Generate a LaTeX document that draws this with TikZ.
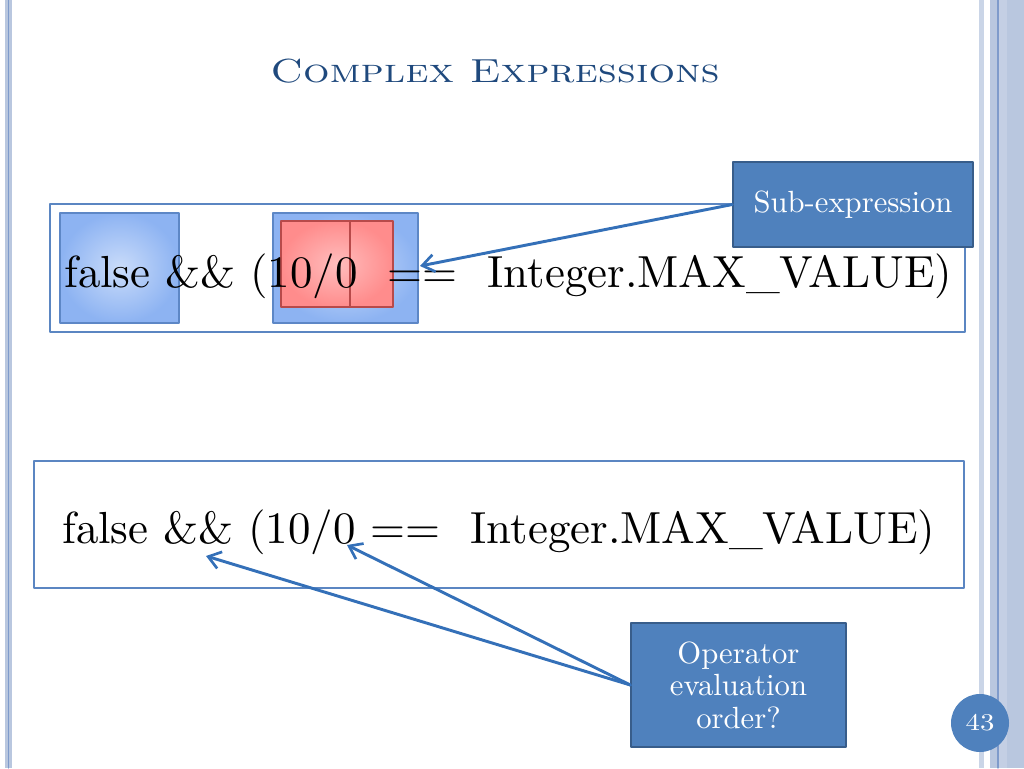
\documentclass[tikz,border=0pt]{standalone}
\usepackage{fontspec}
\setmainfont{lmroman10-regular.otf}[SmallCapsFont=lmromancaps10-regular.otf]
\newfontfamily\titlefont{lmromancaps10-regular.otf}[FakeStretch=1.25]
\newfontfamily\numfont{lmroman10-regular.otf}[FakeStretch=1.2]
\usetikzlibrary{arrows.meta}

\definecolor{stripblue}{HTML}{B9C7DF}
\definecolor{stripline}{HTML}{7F9BCB}
\definecolor{framecol}{HTML}{5B86C2}
\definecolor{calloutcol}{HTML}{4F81BD}
\definecolor{calloutline}{HTML}{385D8A}
\definecolor{arrowcol}{HTML}{3470B8}
\definecolor{titlecol}{HTML}{1F497D}
\definecolor{hlbluein}{HTML}{CADCFA}
\definecolor{hlblueout}{HTML}{8DB3F2}
\definecolor{hlblueline}{HTML}{5D87C6}
\definecolor{hlredin}{HTML}{FFBDBD}
\definecolor{hlredout}{HTML}{FF8C8C}
\definecolor{hlredline}{HTML}{B84A4A}

\tikzset{
  exprbox/.style={draw=framecol,line width=2pt},
  exprtext/.style={anchor=base west,inner sep=0pt,font=\fontsize{33.7}{40}\selectfont},
  hlblue/.style={draw=hlblueline,line width=0.8pt,inner color=hlbluein,outer color=hlblueout},
  hlred/.style={draw=hlredline,line width=0.8pt,inner color=hlredin,outer color=hlredout},
  callout/.style={draw=calloutline,fill=calloutcol,line width=1pt,text=white,align=center,
    inner sep=0pt,font=\fontsize{23}{24.4}\selectfont},
  pointer/.style={->,draw=arrowcol,line width=2.2pt}
}

\begin{document}
\begin{tikzpicture}[line cap=round,line join=round,>={Straight Barb[length=9pt,width=13pt,line width=2pt]},x=0.75pt,y=-0.75pt]
\useasboundingbox (0,0) rectangle (1024,768);
% side strips
\fill[stripblue] (5,0) rectangle (12,768);
\draw[stripline,line width=0.8pt] (8.5,0)--(8.5,768);
\fill[stripblue!75] (979,0) rectangle (984,768);
\fill[stripblue] (990,0) rectangle (1024,768);
\fill[stripblue!85] (999,0) rectangle (1007,768);
\draw[stripline,line width=0.8pt] (998,0)--(998,768);

% title
\node[anchor=base,inner sep=0pt,text=titlecol,font=\titlefont\fontsize{25}{28}\selectfont] (title) at (495,82) {Complex Expressions};

% first expression with highlights
\draw[exprbox] (50,204) rectangle (965,332);
\draw[hlblue] (60,213) rectangle (179,323);
\draw[hlblue] (273,213) rectangle (418,323);
\draw[hlred] (281,221) rectangle (393,307);
\draw[hlredline,line width=0.8pt] (350,221)--(350,307);
\node[exprtext] (exprA) at (64,287) {false \&\& (10/0\ \ ==\ \ Integer.MAX\_VALUE)};

% second expression
\draw[exprbox] (34,461) rectangle (964,588);
\node[exprtext] (exprB) at (62,543) {false \&\& (10/0 ==\ \ Integer.MAX\_VALUE)};

% callouts
\node[callout,minimum width=180pt,minimum height=63.75pt] (subexpr) at (853,204.5) {Sub-expression};
\node[callout,minimum width=161.25pt,minimum height=93pt] (oporder) at (738.5,685) {Operator\\evaluation\\order?};

\coordinate (tipeq) at (420,266);
\coordinate (tipand) at (206,556);
\coordinate (tipzero) at (347,545);
\draw[pointer] (subexpr.west) -- (tipeq);
\draw[pointer] (oporder.west) -- (tipand);
\draw[pointer] (oporder.west) -- (tipzero);

% page number
\node[circle,fill=calloutcol,minimum size=43.5pt,inner sep=0pt,text=white,font=\numfont\fontsize{18}{20}\selectfont] (pagenum) at (980,723) {43};
\end{tikzpicture}
\end{document}
